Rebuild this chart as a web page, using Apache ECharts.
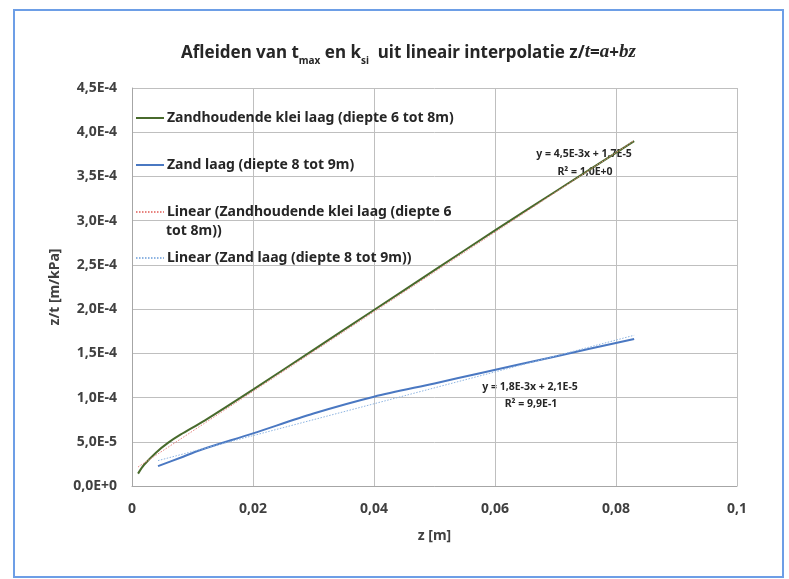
<!DOCTYPE html>
<html>
<head>
<meta charset="utf-8">
<script src="https://cdn.jsdelivr.net/npm/echarts@6/dist/echarts.min.js"></script>
<style>html,body{margin:0;padding:0;background:#fff}#c{width:789px;height:579px}</style>
</head>
<body>
<div id="c"></div>
<script>
// ---- data ----
const clayName = 'Zandhoudende klei laag (diepte 6 tot 8m)';
const sandName = 'Zand laag (diepte 8 tot 9m)';
const clayTrendName = 'Linear (Zandhoudende klei laag (diepte 6 tot 8m))';
const sandTrendName = 'Linear (Zand laag (diepte 8 tot 9m))';

const clayZ = [0.001, 0.002, 0.004, 0.006, 0.008, 0.012, 0.02, 0.03, 0.04, 0.05, 0.06, 0.07, 0.083];
const clayT = [1.4e-5, 2.4e-5, 3.8e-5, 4.9e-5, 5.8e-5, 7.4e-5, 1.09e-4, 1.54e-4, 1.99e-4, 2.44e-4, 2.89e-4, 3.33e-4, 3.9e-4];

const sandZ = [0.0043, 0.008, 0.0112, 0.02, 0.03, 0.04, 0.05, 0.0575, 0.07, 0.083];
const sandT = [2.25e-5, 3.2e-5, 4.05e-5, 5.95e-5, 8.2e-5, 1.01e-4, 1.16e-4, 1.275e-4, 1.465e-4, 1.663e-4];

// trendline endpoints: y = b*x + a
const clayTrendZ = [0.001, 0.083];
const clayTrendT = [2.15e-5, 3.905e-4];
const sandTrendZ = [0.0043, 0.083];
const sandTrendT = [2.87e-5, 1.704e-4];

const xTicks = { min: 0, max: 0.1, interval: 0.02 };
const yTicks = { min: 0, max: 4.5e-4, interval: 5e-5 };

const clayEq = ['y = 4,5E-3x + 1,7E-5', 'R\u00b2 = 1,0E+0'];
const sandEq = ['y = 1,8E-3x + 2,1E-5', 'R\u00b2 = 9,9E-1'];

// ---- helpers ----
const pairs = (xs, ys) => xs.map((x, i) => [x, ys[i]]);
function sci(v) {
  if (v === 0) return '0,0E+0';
  let e = Math.floor(Math.log10(v) + 1e-9);
  let m = v / Math.pow(10, e);
  if (+m.toFixed(1) >= 10) { m /= 10; e += 1; }
  return m.toFixed(1).replace('.', ',') + 'E' + (e < 0 ? '-' : '+') + Math.abs(e);
}
const FONT = 'Noto Sans';
const txtColor = '#404040';

const chart = echarts.init(document.getElementById('c'), null, { renderer: 'canvas' });

function legendAt(name, top, formatter) {
  const o = {
    data: [name], left: 135, top: top, orient: 'vertical',
    itemWidth: 28, itemHeight: 14, itemGap: 0, padding: 0,
    selectedMode: false,
    itemStyle: { opacity: 0 },
    textStyle: { fontFamily: FONT, fontWeight: 'bold', fontSize: 14, color: '#262626', padding: [0, 0, 0, -2] }
  };
  if (formatter) o.formatter = formatter;
  return o;
}

const option = {
  animation: false,
  backgroundColor: '#fff',
  title: {
    text: '{b|Afleiden van t}{s|max}{b| en k}{s|si}{b|  uit lineair interpolatie z/}{i|t}{b|=}{i|a}{b|+}{i|bz}',
    left: 176, top: 33,
    textStyle: {
      rich: {
        b: { fontFamily: FONT, fontWeight: 'bold', fontSize: 17, color: '#262626', lineHeight: 24, verticalAlign: 'bottom' },
        s: { fontFamily: FONT, fontWeight: 'bold', fontSize: 10, color: '#262626', lineHeight: 16, verticalAlign: 'bottom', padding: [0, 0, -4, 0] },
        i: { fontFamily: 'Liberation Serif', fontStyle: 'italic', fontSize: 19, color: '#262626', lineHeight: 24, verticalAlign: 'bottom' }
      }
    }
  },
  legend: [
    legendAt(clayName, 111),
    legendAt(sandName, 158),
    legendAt(clayTrendName, 205, () => 'Linear (Zandhoudende klei laag (diepte 6'),
    legendAt(sandTrendName, 251, () => 'Linear (Zand laag (diepte 8 tot 9m))')
  ],
  grid: { left: 132, right: 52, top: 88, bottom: 93, containLabel: false },
  xAxis: {
    type: 'value', min: xTicks.min, max: xTicks.max, interval: xTicks.interval,
    name: 'z [m]', nameLocation: 'middle', nameGap: 43,
    nameTextStyle: { fontFamily: FONT, fontWeight: 'bold', fontSize: 14, color: txtColor },
    axisLine: { show: true, onZero: false, lineStyle: { color: '#a6a6a6', width: 1 } },
    axisTick: { show: false },
    axisLabel: { margin: 16, fontFamily: FONT, fontWeight: 'bold', fontSize: 14, color: txtColor,
      formatter: v => String(+v.toFixed(2)).replace('.', ',') },
    splitLine: { show: true, lineStyle: { color: '#bfbfbf', width: 1 } }
  },
  yAxis: {
    type: 'value', min: yTicks.min, max: yTicks.max, interval: yTicks.interval,
    name: 'z/t [m/kPa]', nameLocation: 'middle', nameGap: 57, nameRotate: 90,
    nameTextStyle: { fontFamily: FONT, fontWeight: 'bold', fontSize: 14, color: txtColor },
    axisLine: { show: true, lineStyle: { color: '#a6a6a6', width: 1 } },
    axisTick: { show: false },
    axisLabel: { margin: 15, fontFamily: FONT, fontWeight: 'bold', fontSize: 14, color: txtColor, formatter: sci },
    splitLine: { show: true, lineStyle: { color: '#bfbfbf', width: 1 } }
  },
  series: [
    { name: clayTrendName, type: 'line', data: pairs(clayTrendZ, clayTrendT), symbol: 'none', z: 3,
      lineStyle: { color: '#e8837f', width: 1, type: [1.5, 1.5] }, itemStyle: { color: '#e8837f' } },
    { name: sandTrendName, type: 'line', data: pairs(sandTrendZ, sandTrendT), symbol: 'none', z: 3,
      lineStyle: { color: '#8db4e2', width: 1, type: [1.5, 1.5] }, itemStyle: { color: '#8db4e2' } },
    { name: clayName, type: 'line', data: pairs(clayZ, clayT), symbol: 'none', smooth: 0.3, z: 2,
      lineStyle: { color: '#486a2c', width: 2 }, itemStyle: { color: '#486a2c' } },
    { name: sandName, type: 'line', data: pairs(sandZ, sandT), symbol: 'none', smooth: 0.3, z: 2,
      lineStyle: { color: '#4a78c2', width: 2 }, itemStyle: { color: '#4a78c2' } }
  ],
  graphic: [
    { type: 'rect', shape: { x: 14, y: 10, width: 769, height: 567 }, silent: true, z: -1,
      style: { fill: 'none', stroke: '#6d9ee6', lineWidth: 2 } },
    { type: 'text', left: 166, top: 224, silent: true,
      style: { text: 'tot 8m))', fontFamily: FONT, fontWeight: 'bold', fontSize: 14, fill: '#262626' } },
    { type: 'text', x: 584, y: 154, silent: true,
      style: { text: clayEq[0], align: 'center', verticalAlign: 'middle', fontFamily: FONT, fontWeight: 'bold', fontSize: 10.5, fill: '#262626' } },
    { type: 'text', x: 585, y: 172, silent: true,
      style: { text: clayEq[1], align: 'center', verticalAlign: 'middle', fontFamily: FONT, fontWeight: 'bold', fontSize: 10.5, fill: '#262626' } },
    { type: 'text', x: 530, y: 387, silent: true,
      style: { text: sandEq[0], align: 'center', verticalAlign: 'middle', fontFamily: FONT, fontWeight: 'bold', fontSize: 10.5, fill: '#262626' } },
    { type: 'text', x: 531, y: 404, silent: true,
      style: { text: sandEq[1], align: 'center', verticalAlign: 'middle', fontFamily: FONT, fontWeight: 'bold', fontSize: 10.5, fill: '#262626' } }
  ]
};
chart.setOption(option);
</script>
</body>
</html>
